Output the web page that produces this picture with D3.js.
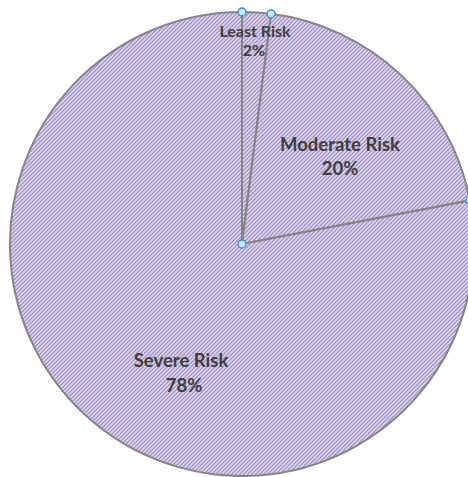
<!DOCTYPE html>
<html>
<head>
<meta charset="utf-8">
<script src="https://cdn.jsdelivr.net/npm/d3@7/dist/d3.min.js"></script>
<style>
  html, body { margin: 0; padding: 0; background: #ffffff; }
  svg { display: block; }
</style>
</head>
<body>
<svg id="chart" width="468" height="477"></svg>
<script>
// Risk distribution
const categories = ["Least Risk", "Moderate Risk", "Severe Risk"];
const percentages = [2, 20, 78];
const valueLabels = ["2%", "20%", "78%"];

const width = 468, height = 477;
const cx = 242, cy = 244, radius = 232;

// label placement (offset from pie centre) and font size per slice
const labelLayout = [
  { dx: 13, dy: -207, size: 16, gap: 19, pctShift: -1 },
  { dx: 98, dy: -93, size: 18.5, gap: 24 },
  { dx: -61, dy: 123, size: 18.5, gap: 25, pctShift: 3 }
];

const svg = d3.select("#chart");
const defs = svg.append("defs");

// diagonal hatch fill
const pat = defs.append("pattern")
  .attr("id", "hatch")
  .attr("patternUnits", "userSpaceOnUse")
  .attr("width", 4).attr("height", 4);
pat.append("rect").attr("width", 4).attr("height", 4).attr("fill", "#e4dcf1");
pat.append("path")
  .attr("d", "M-1,1 L1,-1 M0,4 L4,0 M3,5 L5,3")
  .attr("stroke", "#a192c8")
  .attr("stroke-width", 1.4);

const pie = d3.pie().sort(null).value(d => d)(percentages);
const arc = d3.arc().innerRadius(0).outerRadius(radius);

const g = svg.append("g").attr("transform", `translate(${cx},${cy})`);

g.selectAll("path.slice")
  .data(pie)
  .join("path")
  .attr("class", "slice")
  .attr("d", arc)
  .attr("fill", "url(#hatch)")
  .attr("stroke", "#858585")
  .attr("stroke-width", 2)
  .attr("stroke-linejoin", "round");

// labels
const labels = g.selectAll("g.label")
  .data(pie)
  .join("g")
  .attr("class", "label")
  .attr("transform", (d, i) => `translate(${labelLayout[i].dx},${labelLayout[i].dy})`)
  .attr("font-family", "Lato, 'Open Sans', sans-serif")
  .attr("font-weight", "bold")
  .attr("fill", "#404040")
  .attr("text-anchor", "middle");

labels.append("text")
  .attr("font-size", (d, i) => labelLayout[i].size)
  .text((d, i) => categories[i]);
labels.append("text")
  .attr("x", (d, i) => labelLayout[i].pctShift || 0)
  .attr("y", (d, i) => labelLayout[i].gap)
  .attr("font-size", (d, i) => labelLayout[i].size)
  .text((d, i) => valueLabels[i]);

// selection handles at the centre and at each slice boundary on the rim
const handlePts = [[0, 0]].concat(
  [pie[0].startAngle, pie[0].endAngle, pie[1].endAngle]
    .map(a => [radius * Math.sin(a), -radius * Math.cos(a)])
);
g.selectAll("circle.handle")
  .data(handlePts)
  .join("circle")
  .attr("class", "handle")
  .attr("cx", d => d[0])
  .attr("cy", d => d[1])
  .attr("r", 4)
  .attr("fill", "#c6e6f6")
  .attr("stroke", "#3b8ec2")
  .attr("stroke-width", 1.3);
</script>
</body>
</html>
